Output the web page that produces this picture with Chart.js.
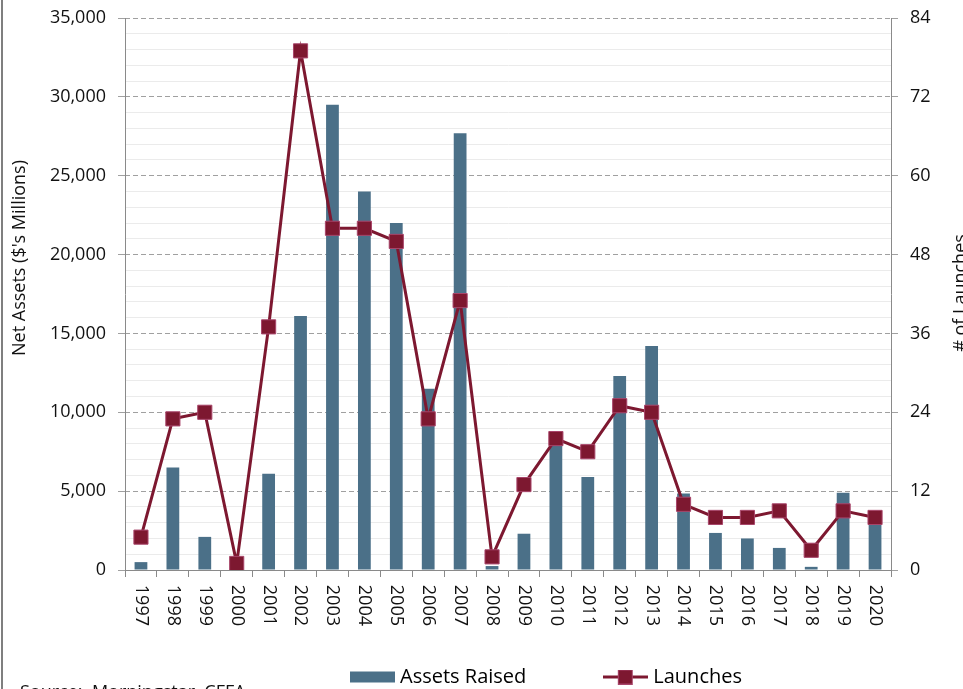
<!DOCTYPE html>
<html>
<head>
<meta charset="utf-8">
<script src="https://cdn.jsdelivr.net/npm/chart.js@4.4.0/dist/chart.umd.min.js"></script>
<style>
html, body { margin: 0; padding: 0; background: #fff; overflow: hidden; }
#wrap { position: relative; width: 1096px; height: 710px; }
</style>
</head>
<body>
<div id="wrap"><canvas id="chartCanvas" width="1096" height="710"></canvas></div>
<script>
var years = ['1997', '1998', '1999', '2000', '2001', '2002', '2003', '2004', '2005', '2006', '2007', '2008',
	'2009', '2010', '2011', '2012', '2013', '2014', '2015', '2016', '2017', '2018', '2019', '2020'];
// net assets raised, $ millions (left axis)
var assetsRaised = [500, 6500, 2100, 0, 6100, 16100, 29500, 24000, 22000, 11500, 27700, 250,
	2300, 8200, 5900, 12300, 14200, 4850, 2350, 2000, 1400, 200, 4900, 3400];
// number of launches (right axis)
var launches = [5, 23, 24, 1, 37, 79, 52, 52, 50, 23, 41, 2,
	13, 20, 18, 25, 24, 10, 8, 8, 9, 3, 9, 8];

var BAR_COLOR = '#4b7088';
var LINE_COLOR = '#7d1830';
var AXIS_COLOR = '#8a8a8a';
var FONT = "'Open Sans', sans-serif";

Chart.defaults.font.family = FONT;
Chart.defaults.font.size = 18;
Chart.defaults.color = '#111';

function makeSwatch(kind) {
	var c = document.createElement('canvas');
	c.width = 45;
	c.height = 15;
	var g = c.getContext('2d');
	if(kind == 'bar') {
		g.fillStyle = BAR_COLOR;
		g.fillRect(0, 2, 45, 11);
	} else {
		g.strokeStyle = LINE_COLOR;
		g.lineWidth = 3;
		g.beginPath();
		g.moveTo(0, 7.5);
		g.lineTo(45, 7.5);
		g.stroke();
		g.fillStyle = '#a8456a';
		g.fillRect(15, 0, 15, 15);
		g.fillStyle = LINE_COLOR;
		g.fillRect(16, 1, 13, 13);
	}
	return c;
}

var barSwatch = makeSwatch('bar');
var lineSwatch = makeSwatch('line');

var textPlugin = {
	id: 'textPlugin',
	afterDraw: function(chart) {
		var ctx = chart.ctx;
		ctx.save();
		// outer frame edge on the left
		ctx.fillStyle = '#7f7f7f';
		ctx.fillRect(1, 0, 2, chart.height);
		ctx.fillStyle = '#111';
		ctx.font = '18px ' + FONT;
		ctx.textAlign = 'center';
		ctx.textBaseline = 'middle';
		// left axis title
		ctx.save();
		ctx.translate(20, 258);
		ctx.rotate(-Math.PI / 2);
		ctx.fillText("Net Assets ($'s Millions)", 0, 0);
		ctx.restore();
		// right axis title
		ctx.save();
		ctx.translate(961, 293);
		ctx.rotate(-Math.PI / 2);
		ctx.fillText('# of Launches', 0, 0);
		ctx.restore();
		// source line
		ctx.textAlign = 'left';
		ctx.textBaseline = 'alphabetic';
		ctx.fillText('Source:  Morningstar, CFFA', 20, 698);
		ctx.restore();
	}
};

var ctx = document.getElementById('chartCanvas').getContext('2d');
window.myChart = new Chart(ctx, {
	type: 'bar',
	data: {
		labels: years,
		datasets: [{
			type: 'line',
			label: 'Launches',
			data: launches,
			yAxisID: 'y1',
			order: 0,
			borderColor: LINE_COLOR,
			borderWidth: 3,
			tension: 0,
			pointStyle: 'rect',
			pointRadius: 10,
			pointBackgroundColor: LINE_COLOR,
			pointBorderColor: '#a8456a',
			pointBorderWidth: 1
		}, {
			type: 'bar',
			label: 'Assets Raised',
			data: assetsRaised,
			yAxisID: 'y',
			order: 1,
			backgroundColor: BAR_COLOR,
			barPercentage: 0.4,
			categoryPercentage: 1
		}]
	},
	options: {
		responsive: false,
		animation: false,
		devicePixelRatio: 1,
		events: [],
		layout: { padding: { top: 18, left: 0, right: 0, bottom: 13 } },
		plugins: {
			tooltip: { enabled: false },
			legend: {
				position: 'bottom',
				labels: {
					usePointStyle: true,
					pointStyleWidth: 36,
					boxHeight: 20,
					padding: 81,
					color: '#111',
					font: { size: 20 },
					generateLabels: function(chart) {
						return [
							{ text: 'Assets Raised', pointStyle: barSwatch, datasetIndex: 1, hidden: false, lineWidth: 0, fillStyle: BAR_COLOR, strokeStyle: BAR_COLOR },
							{ text: 'Launches', pointStyle: lineSwatch, datasetIndex: 0, hidden: false, lineWidth: 0, fillStyle: LINE_COLOR, strokeStyle: LINE_COLOR }
						];
					}
				}
			}
		},
		scales: {
			x: {
				grid: { offset: true, drawOnChartArea: false, tickLength: 7, tickColor: AXIS_COLOR },
				border: { color: AXIS_COLOR },
				// mirror keeps the rotated labels from being clipped to the thin axis box
				ticks: { autoSkip: false, mirror: true, minRotation: -90, maxRotation: -90, padding: -56, labelOffset: -21.6, color: '#111', font: { size: 18 } },
				afterFit: function(s) { s.height = 16; s.paddingLeft = 0; s.paddingRight = 0; }
			},
			y: {
				position: 'left',
				min: 0,
				max: 35000,
				ticks: {
					stepSize: 1000,
					autoSkip: false,
					padding: 12,
					color: '#111',
					callback: function(v) { return v % 5000 === 0 ? v.toLocaleString('en-US') : ''; }
				},
				grid: {
					tickLength: 7,
					color: function(c) { return c.tick && c.tick.value % 5000 === 0 ? 'rgba(0,0,0,0)' : '#ebebeb'; },
					tickColor: function(c) { return c.tick && c.tick.value % 5000 === 0 ? '#a0a0a0' : 'rgba(0,0,0,0)'; }
				},
				border: { color: AXIS_COLOR },
				afterFit: function(s) { s.width = 125; s.paddingTop = 0; s.paddingBottom = 0; }
			},
			y1: {
				position: 'right',
				min: 0,
				max: 84,
				ticks: { stepSize: 12, autoSkip: false, padding: 12, color: '#111' },
				grid: { drawOnChartArea: true, color: '#a0a0a0', tickLength: 7, tickColor: '#a0a0a0' },
				border: { color: AXIS_COLOR, dash: [5, 3] },
				afterFit: function(s) { s.width = 205; s.paddingTop = 0; s.paddingBottom = 0; }
			}
		}
	},
	plugins: [textPlugin]
});
</script>
</body>
</html>
